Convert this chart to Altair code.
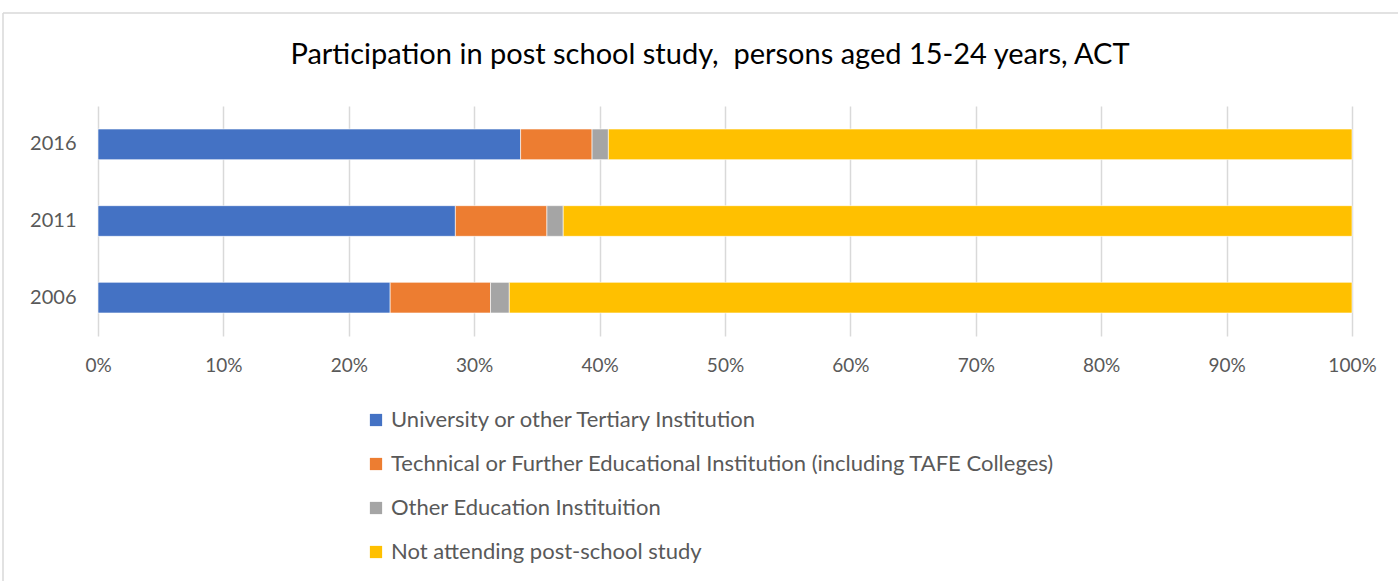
import altair as alt
import pandas as pd

title_text = "Participation in post school study,  persons aged 15-24 years, ACT"
years = ["2016", "2011", "2006"]
series = [
    "University or other Tertiary Institution",
    "Technical or Further Educational Institution (including TAFE Colleges)",
    "Other Education Instituition",
    "Not attending post-school study",
]
university = [33.7, 28.5, 23.3]
technical = [5.7, 7.3, 8.0]
other = [1.3, 1.3, 1.5]
not_attending = [59.3, 62.9, 67.2]
colors = ["#4472C4", "#ED7D31", "#A5A5A5", "#FFC000"]

rows = []
for s_i, (name, vals) in enumerate(zip(series, [university, technical, other, not_attending])):
    for y, v in zip(years, vals):
        rows.append({"year": y, "series": name, "value": v / 100.0, "order": s_i})
df = pd.DataFrame(rows)

font = "Lato"
grey_text = "#595959"

bars = alt.Chart(df).mark_bar(stroke="white", strokeWidth=0.6).encode(
    y=alt.Y("year:N", sort=years,
            scale=alt.Scale(paddingInner=0.6, paddingOuter=0.3),
            axis=alt.Axis(title=None, domain=False, ticks=False, grid=False,
                          labelFont=font, labelFontSize=20, labelColor=grey_text,
                          labelPadding=22)),
    x=alt.X("value:Q", stack="zero",
            scale=alt.Scale(domain=[0, 1], nice=False),
            axis=alt.Axis(title=None, format=".0%", values=[i / 10 for i in range(11)],
                          domain=False, ticks=False, grid=True, gridColor="#d9d9d9",
                          gridWidth=1.5, labelFlush=False,
                          labelFont=font, labelFontSize=19, labelColor=grey_text,
                          labelPadding=20)),
    color=alt.Color("series:N", sort=series,
                    scale=alt.Scale(domain=series, range=colors),
                    legend=alt.Legend(title=None, orient="none", legendX=267, legendY=303,
                                      direction="vertical", symbolType="square",
                                      symbolSize=150, symbolStrokeWidth=0,
                                      labelFont=font, labelFontSize=22,
                                      labelColor=grey_text, rowPadding=22,
                                      labelOffset=4, labelLimit=900)),
    order=alt.Order("order:Q", sort="ascending"),
)

one = pd.DataFrame({"k": [0]})
border = alt.Chart(one).mark_rule(color="#d9d9d9", strokeWidth=1.5).encode(
    x=alt.value(-95), x2=alt.value(1310), y=alt.value(-93)
)
border_left = alt.Chart(one).mark_rule(color="#d9d9d9", strokeWidth=1.5).encode(
    x=alt.value(-95), y=alt.value(-93), y2=alt.value(480)
)
title = alt.Chart(one).mark_text(
    font=font, fontSize=29, color="#000000", align="center", baseline="middle"
).encode(x=alt.value(612), y=alt.value(-51),
         text=alt.value(title_text.replace("  ", " \u00a0")))

chart = alt.layer(border, border_left, title, bars).properties(
    width=1254,
    height=230,
    autosize=alt.AutoSizeParams(type="none"),
    padding={"left": 98, "top": 106, "right": 46, "bottom": 245},
).configure(background="white").configure_view(strokeWidth=0)

chart.save("out.html", embed_options={"renderer": "svg", "actions": False})
